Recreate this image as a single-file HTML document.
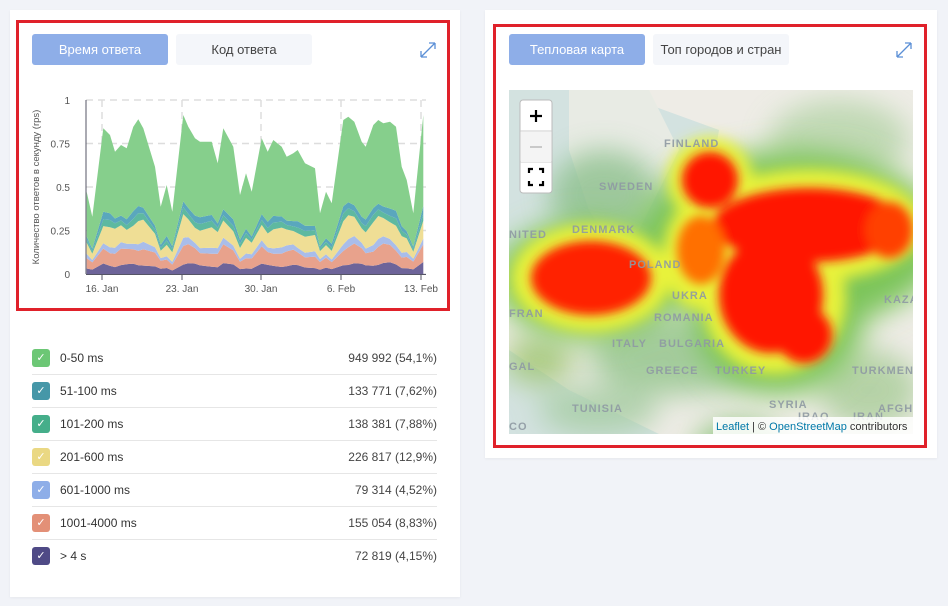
<!DOCTYPE html>
<html><head><meta charset="utf-8"><style>
body{margin:0;width:948px;height:606px;background:#f1f3f8;font-family:"Liberation Sans",sans-serif;position:relative;overflow:hidden}
.card{position:absolute;background:#fff;box-shadow:0 1px 3px rgba(0,0,0,.05)}
.red{position:absolute;border:3px solid #e0212a;box-sizing:border-box}
.btn{position:absolute;height:31px;line-height:31px;text-align:center;font-size:13px;border-radius:3px}
.on{background:#8eaee8;color:#fff}.off{background:#f4f6fa;color:#444}
.row{position:absolute;left:32px;width:405px;height:33px;border-bottom:1px solid #e6e6e6;font-size:12px;color:#333}
.row .cb{position:absolute;left:0;top:8px;width:18px;height:18px;border-radius:3px;color:#fff;font-size:11px;text-align:center;line-height:18px}
.row .l{position:absolute;left:28px;top:10px}.row .v{position:absolute;right:0;top:10px;color:#444}
</style></head><body>
<div class="card" style="left:10px;top:10px;width:450px;height:587px"></div>
<div class="card" style="left:485px;top:10px;width:452px;height:448px"></div>
<div class="red" style="left:16px;top:20px;width:434px;height:291px"></div>
<div class="red" style="left:493px;top:24px;width:434px;height:424px"></div>
<div class="btn on" style="left:32px;top:34px;width:136px">Время ответа</div>
<div class="btn off" style="left:176px;top:34px;width:136px">Код ответа</div>
<div class="btn on" style="left:509px;top:34px;width:136px">Тепловая карта</div>
<div class="btn off" style="left:653px;top:34px;width:136px">Топ городов и стран</div>
<svg style="position:absolute;left:418px;top:40px" width="20" height="20"><path d="M3 17L17 3M3 17v-6M3 17h6M17 3h-6M17 3v6" stroke="#5b8fd6" stroke-width="1.3" fill="none"/></svg>
<svg style="position:absolute;left:894px;top:40px" width="20" height="20"><path d="M3 17L17 3M3 17v-6M3 17h6M17 3h-6M17 3v6" stroke="#5b8fd6" stroke-width="1.3" fill="none"/></svg>

<svg id="ch" style="position:absolute;left:0;top:0" width="460" height="320" font-family="Liberation Sans,sans-serif"></svg>

<div class="row" style="top:341px"><div class="cb" style="background:#6cc775">✓</div><div class="l">0-50 ms</div><div class="v">949 992 (54,1%)</div></div>
<div class="row" style="top:374px"><div class="cb" style="background:#4697a8">✓</div><div class="l">51-100 ms</div><div class="v">133 771 (7,62%)</div></div>
<div class="row" style="top:407px"><div class="cb" style="background:#45ae8a">✓</div><div class="l">101-200 ms</div><div class="v">138 381 (7,88%)</div></div>
<div class="row" style="top:440px"><div class="cb" style="background:#ead883">✓</div><div class="l">201-600 ms</div><div class="v">226 817 (12,9%)</div></div>
<div class="row" style="top:473px"><div class="cb" style="background:#8eaee8">✓</div><div class="l">601-1000 ms</div><div class="v">79 314 (4,52%)</div></div>
<div class="row" style="top:506px"><div class="cb" style="background:#e39077">✓</div><div class="l">1001-4000 ms</div><div class="v">155 054 (8,83%)</div></div>
<div class="row" style="top:539px;border:none"><div class="cb" style="background:#4f4a86">✓</div><div class="l">&gt; 4 s</div><div class="v">72 819 (4,15%)</div></div>

<svg style="position:absolute;left:509px;top:90px" width="404" height="344" font-family="Liberation Sans,sans-serif">
<defs>
<filter id="b1" x="-50%" y="-50%" width="200%" height="200%"><feGaussianBlur stdDeviation="14"/></filter>
<filter id="b2" x="-50%" y="-50%" width="200%" height="200%"><feGaussianBlur stdDeviation="7"/></filter>
<filter id="b3" x="-50%" y="-50%" width="200%" height="200%"><feGaussianBlur stdDeviation="5"/></filter>
</defs>
<rect width="404" height="344" fill="#d3e2e0"/>
<path d="M100 0 L404 0 L404 344 L150 344 L60 300 L0 260 L0 200 L60 170 L120 170 L160 120 L200 100 L210 40 Z" fill="#eeece6"/>
<path d="M60 0 L140 0 L170 60 L130 140 L100 150 L80 120 L60 60 Z" fill="#e8ebe4"/>
<g filter="url(#b1)" opacity="0.8">
<ellipse cx="95" cy="105" rx="55" ry="45" fill="#8cc08c"/>
<ellipse cx="330" cy="50" rx="70" ry="40" fill="#b5d4a8"/>
<ellipse cx="30" cy="270" rx="35" ry="25" fill="#9cc46e"/>
<ellipse cx="170" cy="265" rx="90" ry="40" fill="#92c48a"/>
<ellipse cx="230" cy="360" rx="45" ry="30" fill="#7bbd6a"/>
<ellipse cx="360" cy="300" rx="50" ry="40" fill="#a8cc98"/>
<ellipse cx="90" cy="320" rx="60" ry="25" fill="#a5cca2"/>
</g>
<g filter="url(#b1)">
<ellipse cx="80" cy="190" rx="95" ry="60" fill="#7cc55a"/>
<ellipse cx="280" cy="150" rx="155" ry="90" fill="#7cc55a"/>
<ellipse cx="270" cy="230" rx="85" ry="75" fill="#7cc55a"/>
</g>
<g filter="url(#b2)">
<ellipse cx="82" cy="188" rx="80" ry="54" fill="#e8f23a"/>
<circle cx="201" cy="90" r="43" fill="#e8f23a"/>
<ellipse cx="300" cy="135" rx="116" ry="56" fill="#e8f23a"/>
<ellipse cx="265" cy="208" rx="72" ry="76" fill="#e8f23a"/>
<ellipse cx="190" cy="165" rx="36" ry="55" fill="#e8f23a"/>
</g>
<g filter="url(#b3)">
<ellipse cx="82" cy="188" rx="60" ry="37" fill="#ff2000"/>
<circle cx="201" cy="90" r="28" fill="#ff1800"/>
<ellipse cx="300" cy="135" rx="96" ry="37" fill="#ff1800"/>
<ellipse cx="262" cy="205" rx="52" ry="58" fill="#ff1800"/>
<circle cx="295" cy="245" r="28" fill="#ff1800"/>
<ellipse cx="380" cy="140" rx="24" ry="28" fill="#ff4000"/>
<ellipse cx="192" cy="160" rx="24" ry="34" fill="#ff7000"/>
</g>
<g font-size="11" font-weight="bold" fill="#8f9aa3" letter-spacing="1" opacity="0.9">
<text x="155" y="57">FINLAND</text><text x="90" y="100">SWEDEN</text><text x="63" y="143">DENMARK</text>
<text x="0" y="148">NITED</text><text x="120" y="178">POLAND</text><text x="163" y="209">UKRA</text>
<text x="0" y="227">FRAN</text><text x="145" y="231">ROMANIA</text><text x="103" y="257">ITALY</text>
<text x="150" y="257">BULGARIA</text><text x="0" y="280">GAL</text><text x="137" y="284">GREECE</text>
<text x="206" y="284">TURKEY</text><text x="343" y="284">TURKMENISTA</text><text x="375" y="213">KAZA</text>
<text x="63" y="322">TUNISIA</text><text x="260" y="318">SYRIA</text><text x="289" y="330">IRAQ</text>
<text x="344" y="330">IRAN</text><text x="369" y="322">AFGHA</text><text x="0" y="340">CO</text>
</g>
<rect x="204" y="327" width="200" height="17" fill="rgba(255,255,255,.85)"/>
<text x="207" y="340" font-size="11" fill="#0078a8">Leaflet <tspan fill="#333">| © </tspan>OpenStreetMap<tspan fill="#333"> contributors</tspan></text>
<rect x="11" y="10" width="32" height="93" rx="3" fill="#fff" stroke="#bbb"/>
<line x1="11" y1="41" x2="43" y2="41" stroke="#ccc"/><line x1="11" y1="72" x2="43" y2="72" stroke="#ccc"/>
<rect x="12" y="42" width="30" height="30" fill="#f4f4f4"/>
<path d="M21 26h12M27 20v12" stroke="#000" stroke-width="2.2"/>
<path d="M21 57h12" stroke="#bbb" stroke-width="1.5"/>
<path d="M20 83v-4h4M30 79h4v4M34 91v4h-4M24 95h-4v-4" stroke="#000" stroke-width="2.2" fill="none"/>
</svg>

<script>
var pts=[[215,515],[232,590],[265,325],[285,345],[300,395],[318,375],[335,385],[355,320],[370,298],[385,325],[420,440],[437,560],[455,495],[472,575],[505,285],[520,320],[540,355],[555,365],[590,365],[608,430],[625,325],[655,380],[675,525],[693,460],[710,515],[740,355],[758,395],[775,360],[800,380],[815,410],[835,400],[848,390],[870,430],[900,445],[915,580],[933,515],[950,550],[985,300],[1000,290],[1018,305],[1040,365],[1052,380],[1075,315],[1090,300],[1105,310],[1125,305],[1143,320],[1160,440],[1175,480],[1195,580],[1225,285]];
var X=[],T=[];pts.forEach(function(p){X.push(p[0]/3+15);T.push((762-p[1])/522);});
var y0=274,H=174;function Y(v){return (y0-v*H).toFixed(1);}
var fr=[0.15,0.25,0.1,0.3,0.1,0.1];var cols=["#6d6499","#e8a28c","#a9bdea","#efde95","#5eb9a0","#5aa7bd"];
var s='';
for(var i=0;i<=4;i++){var y=y0-i*H/4;s+='<line x1="86" x2="426" y1="'+y+'" y2="'+y+'" stroke="#ddd" stroke-dasharray="7,5" stroke-width="1.5"/>';}
[102,182,261,341,421].forEach(function(x){s+='<line x1="'+x+'" x2="'+x+'" y1="100" y2="274" stroke="#ddd" stroke-dasharray="7,5" stroke-width="1.5"/>';});
var cum=X.map(function(){return 0});
function area(lo,hi,c){var d='M'+X[0]+' '+Y(hi[0]);for(var i=1;i<X.length;i++)d+='L'+X[i].toFixed(1)+' '+Y(hi[i]);for(var i=X.length-1;i>=0;i--)d+='L'+X[i].toFixed(1)+' '+Y(lo[i]);return '<path d="'+d+'Z" fill="'+c+'"/>';}
for(var k=0;k<6;k++){var lo=cum.slice();var hi=cum.map(function(c,i){var o=T[i]*0.48*(0.92+0.16*Math.sin(i*1.3+k));return c+o*fr[k];});s+=area(lo,hi,cols[k]);cum=hi;}
s+=area(cum,T,"#86cf8c");
s+='<line x1="86" x2="86" y1="100" y2="274" stroke="#556" /><line x1="86" x2="426" y1="274.5" y2="274.5" stroke="#556"/>';
[102,182,261,341,421].forEach(function(x){s+='<line x1="'+x+'" x2="'+x+'" y1="274" y2="280" stroke="#556"/>';});
var yl=["0","0.25","0.5","0.75","1"];for(var i=0;i<5;i++)s+='<text x="70" y="'+(y0-i*H/4+4)+'" font-size="10" fill="#555" text-anchor="end">'+yl[i]+'</text>';
[["16. Jan",102],["23. Jan",182],["30. Jan",261],["6. Feb",341],["13. Feb",421]].forEach(function(a){s+='<text x="'+a[1]+'" y="292" font-size="10" fill="#555" text-anchor="middle">'+a[0]+'</text>';});
s+='<text transform="translate(39,187) rotate(-90)" font-size="9.5" fill="#555" text-anchor="middle">Количество ответов в секунду (rps)</text>';
document.getElementById('ch').innerHTML=s;
</script>
</body></html>
